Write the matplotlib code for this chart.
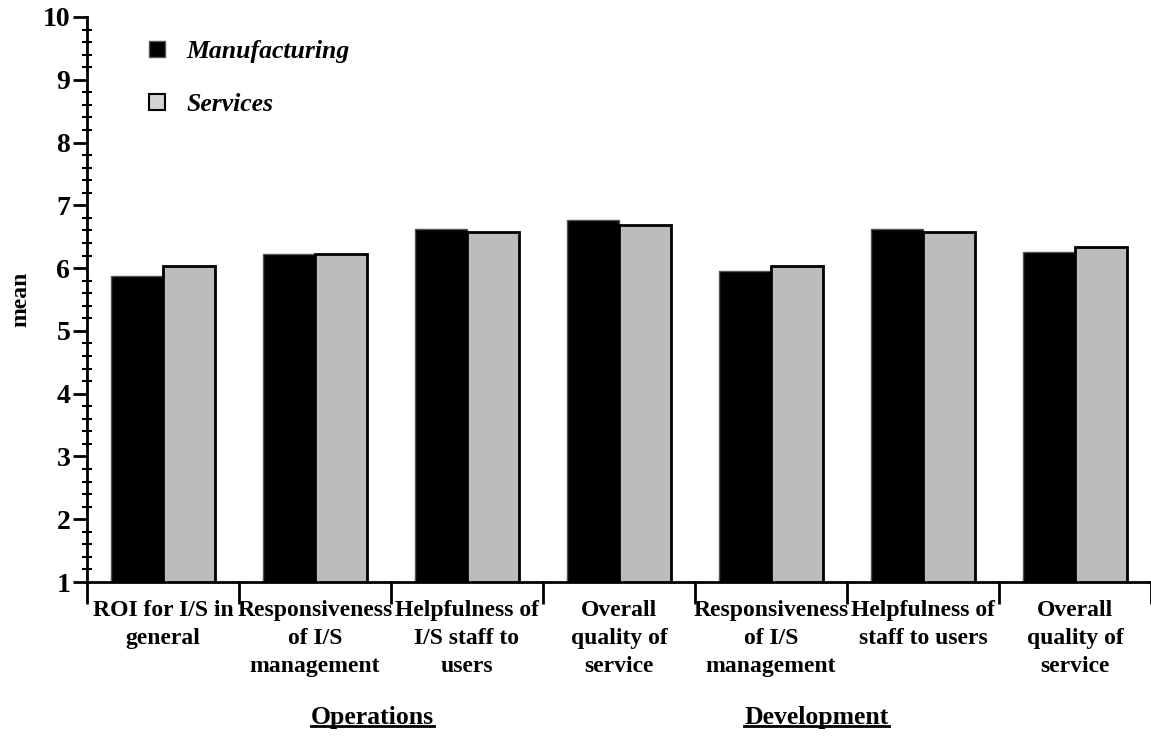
import matplotlib
matplotlib.use("Agg")
import matplotlib.pyplot as plt
from matplotlib.patches import Patch
from matplotlib.lines import Line2D
import numpy as np

categories = [
    "ROI for I/S in\ngeneral",
    "Responsiveness\nof I/S\nmanagement",
    "Helpfulness of\nI/S staff to\nusers",
    "Overall\nquality of\nservice",
    "Responsiveness\nof I/S\nmanagement",
    "Helpfulness of\nstaff to users",
    "Overall\nquality of\nservice",
]
manufacturing = [5.88, 6.22, 6.63, 6.76, 5.96, 6.63, 6.25]
services = [6.04, 6.22, 6.58, 6.68, 6.04, 6.58, 6.33]
group_names = ["Operations", "Development"]
group_pos = [1.88, 4.8]

plt.rcParams["font.family"] = ["Liberation Serif", "DejaVu Serif"]
plt.rcParams["font.weight"] = "bold"
plt.rcParams["hatch.linewidth"] = 0.5

fig = plt.figure(figsize=(11.51, 7.51), dpi=100)
ax = fig.add_axes([87 / 1151, 169 / 751, 1064 / 1151, 565 / 751])

x = np.arange(len(categories)) + 0.5
w = 0.34

ax.bar(x - w / 2, manufacturing, w, color="black", edgecolor="#555555", linewidth=1, zorder=2)
ax.bar(x + w / 2, services, w, color="#ececec", edgecolor="#bcbcbc", hatch="+" * 14,
       linewidth=0, zorder=2)
ax.bar(x + w / 2, services, w, fill=False, edgecolor="black", linewidth=2, zorder=3)

ax.set_xlim(0, 7)
ax.set_ylim(1, 10)
ax.spines["top"].set_visible(False)
ax.spines["right"].set_visible(False)
ax.spines["left"].set_linewidth(2)
ax.spines["bottom"].set_linewidth(2)

ax.set_yticks(np.arange(1, 11))
ax.set_yticks(np.arange(1, 10.01, 0.2), minor=True)
ax.tick_params(axis="y", which="major", direction="out", length=10, width=2,
               labelsize=20, pad=2)
ax.tick_params(axis="y", which="minor", direction="inout", length=7, width=1.5)

ax.set_xticks(np.arange(0, 8))
ax.set_xticklabels([])
ax.set_xticks(x, minor=True)
ax.set_xticklabels(categories, minor=True, fontsize=17, fontweight="bold", linespacing=1.45)
ax.tick_params(axis="x", which="major", direction="out", length=16, width=2)
ax.tick_params(axis="x", which="minor", length=0, pad=13)

ax.set_ylabel("mean", fontsize=17, fontweight="bold", labelpad=8)

handles = [Patch(facecolor="black", edgecolor="#555555"),
           Patch(facecolor="#d4d4d4", edgecolor="black", linewidth=1.5)]
ax.legend(handles, ["Manufacturing", "Services"], loc="upper left",
          bbox_to_anchor=(0.037, 1.0), frameon=False, handlelength=0.6,
          handleheight=0.6, handletextpad=0.85, labelspacing=1.17,
          prop={"family": "Liberation Serif", "weight": "bold", "style": "italic", "size": 18.5})

texts = []
for name, pos in zip(group_names, group_pos):
    t = ax.text(pos, -0.239, name, transform=ax.get_xaxis_transform(), ha="center",
                va="center", fontsize=18.5, fontweight="bold", clip_on=False)
    texts.append(t)

fig.canvas.draw()
r = fig.canvas.get_renderer()
inv = fig.transFigure.inverted()
for t in texts:
    bb = t.get_window_extent(r)
    (x0, y0), (x1, y1) = inv.transform([[bb.x0, bb.y0 + 3], [bb.x1, bb.y0 + 3]])
    fig.add_artist(Line2D([x0, x1], [y0, y1], color="black", linewidth=2))

fig.savefig("out.png", dpi=100)
